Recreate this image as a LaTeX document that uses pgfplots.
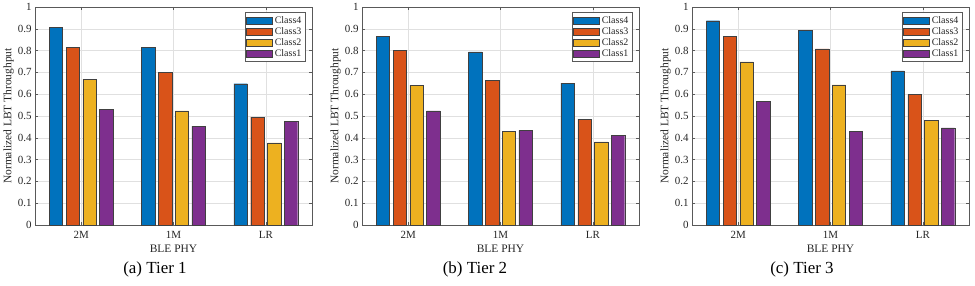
\documentclass[border=0pt]{standalone}
\usepackage{fontspec}
\setmainfont{Liberation Serif}
\usepackage{pgfplots}
\usepackage{pgfplotstable}
\pgfplotsset{compat=1.18}
\definecolor{cfour}{rgb}{0,0.447,0.741}
\definecolor{cthree}{rgb}{0.850,0.325,0.098}
\definecolor{ctwo}{rgb}{0.929,0.694,0.125}
\definecolor{cone}{rgb}{0.494,0.184,0.556}
\definecolor{axgray}{rgb}{0.35,0.35,0.35}
\definecolor{txt}{rgb}{0.15,0.15,0.15}

\pgfplotstableread{
x c4 c3 c2 c1
1 0.907 0.816 0.669 0.532
2 0.814 0.701 0.524 0.453
3 0.648 0.495 0.377 0.476
}\tierone
\pgfplotstableread{
x c4 c3 c2 c1
1 0.866 0.800 0.642 0.523
2 0.794 0.665 0.430 0.434
3 0.651 0.486 0.381 0.412
}\tiertwo
\pgfplotstableread{
x c4 c3 c2 c1
1 0.937 0.866 0.748 0.566
2 0.892 0.808 0.643 0.431
3 0.707 0.599 0.480 0.445
}\tierthree

\pgfplotsset{
  tierstyle/.style={
    scale only axis, width=277bp, height=218bp,
    anchor=south west,
    xmin=0.5, xmax=3.5, ymin=0, ymax=1,
    xtick={1,2,3}, xticklabels={2M,1M,LR},
    ytick={0,0.1,0.2,0.3,0.4,0.5,0.6,0.7,0.8,0.9,1},
    yticklabels={0,0.1,0.2,0.3,0.4,0.5,0.6,0.7,0.8,0.9,1},
    tick align=inside, major tick length=3bp,
    xmajorgrids, ymajorgrids,
    major grid style={draw=black!12, line width=0.4bp},
    axis line style={draw=axgray, line width=0.5bp},
    every tick/.style={draw=axgray, line width=0.4bp},
    tick label style={font=\fontsize{11}{12}\selectfont, text=txt},
    xticklabel style={yshift=-3bp},
    label style={font=\fontsize{11.5}{13}\selectfont, text=txt},
    xlabel={BLE PHY},
    ylabel={Normalized LBT Throughput},
    xlabel style={yshift=1bp},
    ylabel style={yshift=-3bp},
    bar width=0.145, bar shift=0pt,
    legend style={at={(0.975,0.975)}, anchor=north east,
      font=\fontsize{10}{11.5}\selectfont, text=txt,
      draw=axgray, line width=0.4bp, inner sep=1.5bp, row sep=-1.2bp,
      cells={anchor=west}},
    legend image code/.code={\draw[#1, line width=0.4bp] (0bp,-3.5bp) rectangle (26bp,3.5bp);},
    every axis plot/.append style={ybar, draw=black!75, line width=0.4bp},
  }
}

\newcommand{\tierplots}[1]{%
  \addplot[fill=cfour] table[x expr=\thisrow{x}-0.2727, y=c4] {#1};
  \addplot[fill=cthree] table[x expr=\thisrow{x}-0.0909, y=c3] {#1};
  \addplot[fill=ctwo] table[x expr=\thisrow{x}+0.0909, y=c2] {#1};
  \addplot[fill=cone] table[x expr=\thisrow{x}+0.2727, y=c1] {#1};
  \legend{Class4,Class3,Class2,Class1}
}

\begin{document}
\begin{tikzpicture}[x=1bp,y=1bp]
\useasboundingbox (0,0) rectangle (975,285);
\begin{axis}[tierstyle, at={(35bp,60bp)}]
\tierplots{\tierone}
\end{axis}
\begin{axis}[tierstyle, at={(362bp,60bp)}]
\tierplots{\tiertwo}
\end{axis}
\begin{axis}[tierstyle, at={(692bp,60bp)}]
\tierplots{\tierthree}
\end{axis}
\node[font=\fontsize{17}{20}\selectfont] at (155,16) {(a) Tier 1};
\node[font=\fontsize{17}{20}\selectfont] at (475,16) {(b) Tier 2};
\node[font=\fontsize{17}{20}\selectfont] at (802,16) {(c) Tier 3};
\end{tikzpicture}
\end{document}
